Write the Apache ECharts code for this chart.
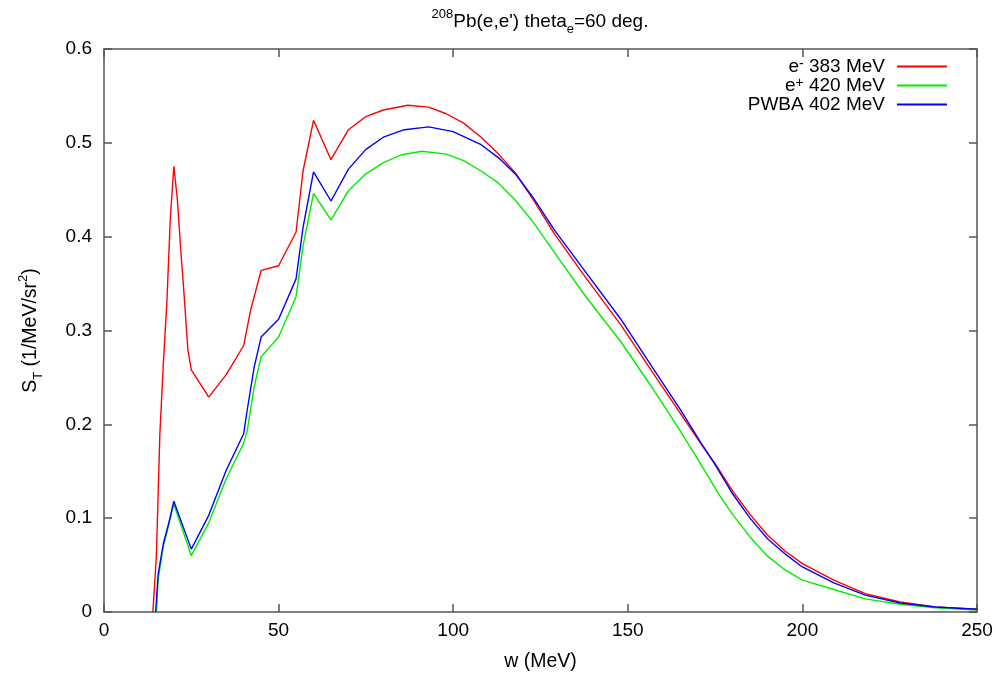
<!DOCTYPE html>
<html>
<head>
<meta charset="utf-8">
<script src="https://cdn.jsdelivr.net/npm/echarts@6/dist/echarts.min.js"></script>
<style>
  html, body { margin: 0; padding: 0; background: #fff; }
  #main { width: 996px; height: 673px; }
</style>
</head>
<body>
<div id="main"></div>
<script>
// data: [w (MeV), S_T]
var eMinus383 = [
    [14, 0], [15, 0.06], [16, 0.19], [17, 0.265], [18, 0.33], [19, 0.42], [20, 0.475],
    [21, 0.44], [22, 0.385], [23, 0.335], [24, 0.28], [25, 0.258], [30, 0.229], [35, 0.253],
    [40, 0.284], [42, 0.322], [45, 0.364], [50, 0.369], [55, 0.405], [57, 0.47], [60, 0.524],
    [65, 0.482], [70, 0.514], [75, 0.528], [80, 0.535], [87, 0.540], [93, 0.538], [98, 0.531],
    [103, 0.521], [108, 0.506], [113, 0.488], [118, 0.467], [123, 0.439], [129, 0.403],
    [138, 0.356], [148, 0.306], [157, 0.256], [165, 0.212], [171, 0.179], [175, 0.158],
    [180, 0.129], [185, 0.104], [190, 0.082], [195, 0.065], [200, 0.0515], [209, 0.034],
    [218, 0.0196], [228, 0.0107], [238, 0.0055], [250, 0.003]
];
var ePlus420 = [
    [15, 0], [15.5, 0.035], [17, 0.07], [18.5, 0.092], [20, 0.115], [25, 0.06], [30, 0.095],
    [35, 0.142], [40, 0.18], [41, 0.193], [43, 0.24], [45, 0.272], [50, 0.293], [55, 0.336],
    [57, 0.39], [60, 0.446], [65, 0.418], [70, 0.449], [75, 0.467], [80, 0.479], [85, 0.487],
    [91, 0.491], [98, 0.488], [103, 0.481], [108, 0.47], [113, 0.457], [118, 0.438],
    [123, 0.415], [129, 0.383], [138, 0.336], [148, 0.288], [157, 0.239], [165, 0.193],
    [171, 0.157], [176, 0.126], [180, 0.104], [185, 0.08], [190, 0.0595], [195, 0.045],
    [200, 0.034], [209, 0.024], [218, 0.014], [228, 0.0082], [238, 0.0045], [250, 0.002]
];
var pwba402 = [
    [14.8, 0], [15.5, 0.04], [17, 0.073], [18.5, 0.094], [20, 0.118], [25, 0.067], [30, 0.103],
    [35, 0.151], [40, 0.19], [41, 0.215], [43, 0.261], [45, 0.293], [50, 0.312], [55, 0.355],
    [57, 0.41], [60, 0.469], [65, 0.438], [70, 0.472], [75, 0.493], [80, 0.506], [86, 0.514],
    [93, 0.517], [100, 0.512], [108, 0.498], [113, 0.484], [118, 0.466], [123, 0.441],
    [129, 0.407], [138, 0.362], [148, 0.312], [157, 0.261], [165, 0.216], [171, 0.18],
    [175, 0.157], [180, 0.126], [185, 0.1], [190, 0.078], [195, 0.062], [200, 0.048],
    [209, 0.031], [218, 0.018], [228, 0.0096], [238, 0.0053], [250, 0.003]
];
var seriesNames = ['e- 383 MeV', 'e+ 420 MeV', 'PWBA 402 MeV'];
var seriesColors = ['#ff0000', '#00ee00', '#0000ff'];

var font = 'Liberation Sans, Arial, sans-serif';
var axisColor = '#555';

var chartDom = document.getElementById('main');
var myChart = echarts.init(chartDom);

// top / right axes only draw the frame and the inward ticks
function frameAxis(pos) {
    var isX = pos === 'top';
    return {
        type: 'value', position: pos, min: 0, max: isX ? 250 : 0.6,
        interval: isX ? 50 : 0.1,
        axisLine: { show: true, onZero: false, lineStyle: { color: axisColor, width: 1.5 } },
        axisTick: { show: true, inside: true, length: 8, lineStyle: { color: axisColor, width: 1.5 } },
        axisLabel: { show: false },
        splitLine: { show: false }
    };
}

var option = {
    animation: false,
    backgroundColor: '#fff',
    title: {
        text: '{sup|208}{b|Pb(e,e\') theta}{sub|e}{b|=60 deg.}',
        left: 535,
        textAlign: 'center',
        top: 3,
        textStyle: {
            fontWeight: 'normal',
            rich: {
                b: { fontFamily: font, fontSize: 19, fontWeight: 'normal', color: '#000', lineHeight: 28, verticalAlign: 'middle' },
                sup: { fontFamily: font, fontSize: 13, fontWeight: 'normal', color: '#000', verticalAlign: 'top' },
                sub: { fontFamily: font, fontSize: 13, fontWeight: 'normal', color: '#000', verticalAlign: 'bottom' }
            }
        }
    },
    legend: {
        orient: 'vertical',
        right: 44,
        top: 52,
        align: 'right',
        itemWidth: 50,
        itemHeight: 2,
        itemGap: 0,
        icon: 'rect',
        data: seriesNames,
        formatter: function (name) {
            if (name === seriesNames[0]) return '{b|e}{sup|-}{b| 383 MeV}{gap|}';
            if (name === seriesNames[1]) return '{b|e}{sup|+}{b| 420 MeV}{gap|}';
            return '{b|PWBA 402 MeV}{gap|}';
        },
        textStyle: {
            rich: {
                b: { fontFamily: font, fontSize: 19, color: '#000', lineHeight: 18.5, verticalAlign: 'middle' },
                sup: { fontFamily: font, fontSize: 14, color: '#000', verticalAlign: 'top' },
                gap: { width: 7 }
            }
        }
    },
    grid: { left: 104, right: 19, top: 49, bottom: 61, containLabel: false, outerBoundsMode: 'none' },
    xAxis: [{
        type: 'value',
        min: 0,
        max: 250,
        interval: 50,
        name: 'w (MeV)',
        nameLocation: 'middle',
        nameGap: 40,
        nameTextStyle: { fontFamily: font, fontSize: 19.5, color: '#000' },
        axisLine: { show: true, onZero: false, lineStyle: { color: axisColor, width: 1.5 } },
        axisTick: { show: true, inside: true, length: 8, lineStyle: { color: axisColor, width: 1.5 } },
        axisLabel: { fontFamily: font, fontSize: 19, color: '#000', margin: 9 },
        splitLine: { show: false }
    }, frameAxis('top')],
    yAxis: [{
        type: 'value',
        min: 0,
        max: 0.6,
        interval: 0.1,
        name: '{b|S}{sub|T}{b| (1/MeV/sr}{sup|2}{b|)}',
        nameLocation: 'middle',
        nameGap: 59,
        nameTextStyle: {
            rich: {
                b: { fontFamily: font, fontSize: 19.5, color: '#000', lineHeight: 28, verticalAlign: 'middle' },
                sup: { fontFamily: font, fontSize: 13, color: '#000', verticalAlign: 'top' },
                sub: { fontFamily: font, fontSize: 13, color: '#000', verticalAlign: 'bottom' }
            }
        },
        axisLine: { show: true, onZero: false, lineStyle: { color: axisColor, width: 1.5 } },
        axisTick: { show: true, inside: true, length: 8, lineStyle: { color: axisColor, width: 1.5 } },
        axisLabel: { fontFamily: font, fontSize: 19, color: '#000', margin: 12 },
        splitLine: { show: false }
    }, frameAxis('right')],
    series: [
        { name: seriesNames[0], type: 'line', data: eMinus383 },
        { name: seriesNames[1], type: 'line', data: ePlus420 },
        { name: seriesNames[2], type: 'line', data: pwba402 }
    ].map(function (s, i) {
        s.showSymbol = false;
        s.symbol = 'none';
        s.color = seriesColors[i];
        s.lineStyle = { color: seriesColors[i], width: 1.4 };
        return s;
    })
};

myChart.setOption(option);
</script>
</body>
</html>
